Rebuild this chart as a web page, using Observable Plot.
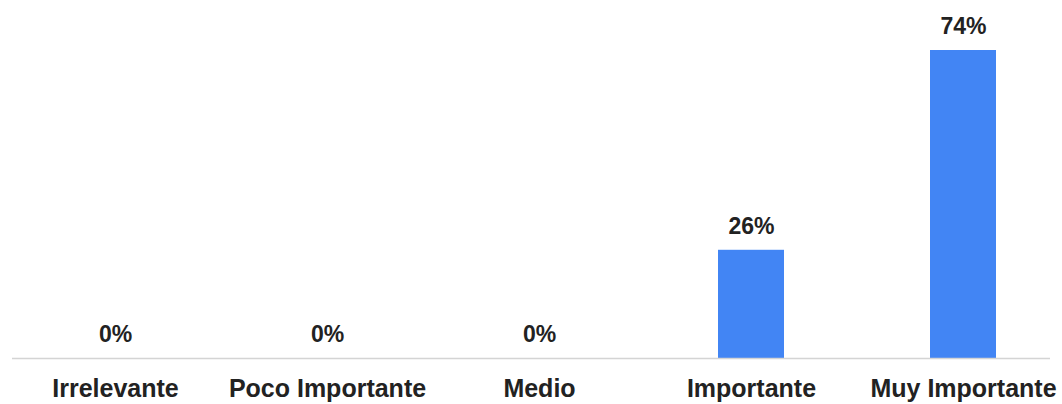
<!DOCTYPE html>
<html>
<head>
<meta charset="utf-8">
<script src="https://cdn.jsdelivr.net/npm/d3@7"></script>
<script src="https://cdn.jsdelivr.net/npm/@observablehq/plot@0.6"></script>
<style>
  html, body { margin: 0; padding: 0; background: #fff; }
  #chart svg { display: block; }
</style>
</head>
<body>
<div id="chart"></div>
<script>
const categories = ["Irrelevante", "Poco Importante", "Medio", "Importante", "Muy Importante"];
const values = [0, 0, 0, 26, 74];
const valueLabels = ["0%", "0%", "0%", "26%", "74%"];

const data = categories.map((c, i) => ({category: c, value: values[i], label: valueLabels[i]}));

const chart = Plot.plot({
  width: 1062,
  height: 404,
  marginTop: 50,
  marginBottom: 46,
  marginLeft: 81,
  marginRight: 66,
  style: {fontFamily: "'Liberation Sans', Arial, sans-serif", background: "#fff"},
  x: {domain: categories, paddingInner: 0.69, paddingOuter: 0, label: null},
  y: {domain: [0, d3.max(values)], axis: null},
  marks: [
    Plot.barY(data, {x: "category", y: "value", fill: "#4285f4"}),
    Plot.ruleY([0], {stroke: "#d4d4d4", strokeWidth: 1.5, insetLeft: -69, insetRight: -54}),
    Plot.text(data, {x: "category", y: "value", text: "label", dy: -24, fontSize: 23, fontWeight: "bold", fill: "#222", lineAnchor: "middle"}),
    Plot.axisX({tickSize: 0, tickPadding: 21, fontSize: 25, fontWeight: "bold", fill: "#222", label: null})
  ]
});
document.getElementById("chart").appendChild(chart);
</script>
</body>
</html>
